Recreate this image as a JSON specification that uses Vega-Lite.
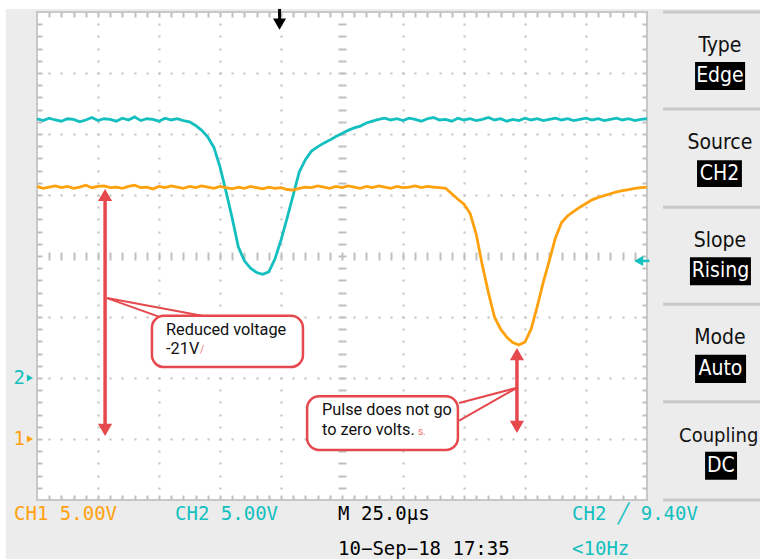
{
  "$schema": "https://vega.github.io/schema/vega-lite/v6.json",
  "width": 610,
  "height": 488,
  "autosize": {"type": "none"},
  "padding": {"left": 37, "top": 12, "right": 113, "bottom": 59},
  "background": "#ececec",
  "config": {"view": {"stroke": "#c8c8c8", "strokeWidth": 2, "fill": "#ffffff"}},
  "encoding": {
    "x": {
      "field": "t", "type": "quantitative",
      "scale": {"domain": [-125, 125], "nice": false, "zero": false},
      "axis": {
        "values": [-120,-115,-110,-105,-100,-95,-90,-85,-80,-75,-70,-65,-60,-55,-50,-45,-40,-35,-30,-25,-20,-15,-10,-5,0,5,10,15,20,25,30,35,40,45,50,55,60,65,70,75,80,85,90,95,100,105,110,115,120],
        "grid": true, "gridColor": "#bfbfbf", "gridWidth": 2, "gridOpacity": 1,
        "gridDash": [5,55,2,59,2,59,2,56,8,56,2,59,2,59,2,55,5],
        "domain": false, "ticks": false, "labels": false, "title": null
      }
    },
    "y": {
      "field": "v", "type": "quantitative",
      "scale": {"domain": [0, 8], "nice": false, "zero": false},
      "axis": {
        "values": [0.2,0.4,0.6,0.8,1,1.2,1.4,1.6,1.8,2,2.2,2.4,2.6,2.8,3,3.2,3.4,3.6,3.8,4,4.2,4.4,4.6,4.8,5,5.2,5.4,5.6,5.8,6,6.2,6.4,6.6,6.8,7,7.2,7.4,7.6,7.8],
        "grid": true, "gridColor": "#bfbfbf", "gridWidth": 2, "gridOpacity": 1,
        "gridDash": [5,55,2,59,2,59,2,59,2,56,8,56,2,59,2,59,2,59,2,55,5],
        "domain": false, "ticks": false, "labels": false, "title": null
      }
    }
  },
  "layer": [
    {
      "data": {"values": [
        {"t": -141, "t2": 172, "v": 8.2, "v2": 8.05},
        {"t": -141, "t2": -137.8, "v": 8.2, "v2": -1}
      ]},
      "mark": {"type": "rect", "fill": "#ffffff", "clip": false},
      "encoding": {"x2": {"field": "t2"}, "y2": {"field": "v2"}}
    },
    {
      "data": {"values": [
        {"c":"CH2","t":-125,"v":6.25},{"c":"CH2","t":-122.5,"v":6.22},{"c":"CH2","t":-120,"v":6.26},{"c":"CH2","t":-117.5,"v":6.23},{"c":"CH2","t":-115,"v":6.21},{"c":"CH2","t":-112.5,"v":6.25},{"c":"CH2","t":-110,"v":6.24},{"c":"CH2","t":-107.5,"v":6.20},{"c":"CH2","t":-105,"v":6.23},{"c":"CH2","t":-102.5,"v":6.27},{"c":"CH2","t":-100,"v":6.22},{"c":"CH2","t":-97.5,"v":6.25},{"c":"CH2","t":-95,"v":6.24},{"c":"CH2","t":-92.5,"v":6.21},{"c":"CH2","t":-90,"v":6.26},{"c":"CH2","t":-87.5,"v":6.23},{"c":"CH2","t":-85,"v":6.28},{"c":"CH2","t":-82.5,"v":6.22},{"c":"CH2","t":-80,"v":6.25},{"c":"CH2","t":-77.5,"v":6.24},{"c":"CH2","t":-75,"v":6.21},{"c":"CH2","t":-72.5,"v":6.26},{"c":"CH2","t":-70,"v":6.23},{"c":"CH2","t":-67.5,"v":6.25},{"c":"CH2","t":-65,"v":6.22},{"c":"CH2","t":-62.5,"v":6.20},{"c":"CH2","t":-60,"v":6.14},{"c":"CH2","t":-57.5,"v":6.06},{"c":"CH2","t":-55,"v":5.95},{"c":"CH2","t":-52.5,"v":5.78},{"c":"CH2","t":-50,"v":5.46},{"c":"CH2","t":-47.5,"v":5.05},{"c":"CH2","t":-45,"v":4.62},{"c":"CH2","t":-42.5,"v":4.15},{"c":"CH2","t":-40,"v":3.92},{"c":"CH2","t":-37.5,"v":3.80},{"c":"CH2","t":-35,"v":3.73},{"c":"CH2","t":-32.5,"v":3.70},{"c":"CH2","t":-30,"v":3.74},{"c":"CH2","t":-27.5,"v":3.95},{"c":"CH2","t":-25,"v":4.26},{"c":"CH2","t":-22.5,"v":4.62},{"c":"CH2","t":-20,"v":5.00},{"c":"CH2","t":-17.5,"v":5.38},{"c":"CH2","t":-15,"v":5.58},{"c":"CH2","t":-12.5,"v":5.72},{"c":"CH2","t":-10,"v":5.79},{"c":"CH2","t":-7.5,"v":5.85},{"c":"CH2","t":-5,"v":5.90},{"c":"CH2","t":-2.5,"v":5.96},{"c":"CH2","t":0,"v":6.01},{"c":"CH2","t":2.5,"v":6.06},{"c":"CH2","t":5,"v":6.10},{"c":"CH2","t":7.5,"v":6.13},{"c":"CH2","t":10,"v":6.18},{"c":"CH2","t":12.5,"v":6.21},{"c":"CH2","t":15,"v":6.24},{"c":"CH2","t":17.5,"v":6.26},{"c":"CH2","t":20,"v":6.23},{"c":"CH2","t":22.5,"v":6.25},{"c":"CH2","t":25,"v":6.22},{"c":"CH2","t":27.5,"v":6.26},{"c":"CH2","t":30,"v":6.24},{"c":"CH2","t":32.5,"v":6.21},{"c":"CH2","t":35,"v":6.25},{"c":"CH2","t":37.5,"v":6.27},{"c":"CH2","t":40,"v":6.23},{"c":"CH2","t":42.5,"v":6.24},{"c":"CH2","t":45,"v":6.21},{"c":"CH2","t":47.5,"v":6.26},{"c":"CH2","t":50,"v":6.23},{"c":"CH2","t":52.5,"v":6.25},{"c":"CH2","t":55,"v":6.22},{"c":"CH2","t":57.5,"v":6.24},{"c":"CH2","t":60,"v":6.27},{"c":"CH2","t":62.5,"v":6.23},{"c":"CH2","t":65,"v":6.25},{"c":"CH2","t":67.5,"v":6.21},{"c":"CH2","t":70,"v":6.24},{"c":"CH2","t":72.5,"v":6.22},{"c":"CH2","t":75,"v":6.26},{"c":"CH2","t":77.5,"v":6.23},{"c":"CH2","t":80,"v":6.25},{"c":"CH2","t":82.5,"v":6.22},{"c":"CH2","t":85,"v":6.24},{"c":"CH2","t":87.5,"v":6.26},{"c":"CH2","t":90,"v":6.23},{"c":"CH2","t":92.5,"v":6.25},{"c":"CH2","t":95,"v":6.22},{"c":"CH2","t":97.5,"v":6.24},{"c":"CH2","t":100,"v":6.26},{"c":"CH2","t":102.5,"v":6.23},{"c":"CH2","t":105,"v":6.25},{"c":"CH2","t":107.5,"v":6.22},{"c":"CH2","t":110,"v":6.24},{"c":"CH2","t":112.5,"v":6.26},{"c":"CH2","t":115,"v":6.23},{"c":"CH2","t":117.5,"v":6.25},{"c":"CH2","t":120,"v":6.22},{"c":"CH2","t":122.5,"v":6.24},{"c":"CH2","t":125,"v":6.25},
        {"c":"CH1","t":-125,"v":5.14},{"c":"CH1","t":-122.5,"v":5.11},{"c":"CH1","t":-120,"v":5.13},{"c":"CH1","t":-117.5,"v":5.15},{"c":"CH1","t":-115,"v":5.12},{"c":"CH1","t":-112.5,"v":5.14},{"c":"CH1","t":-110,"v":5.11},{"c":"CH1","t":-107.5,"v":5.13},{"c":"CH1","t":-105,"v":5.16},{"c":"CH1","t":-102.5,"v":5.12},{"c":"CH1","t":-100,"v":5.14},{"c":"CH1","t":-97.5,"v":5.15},{"c":"CH1","t":-95,"v":5.12},{"c":"CH1","t":-92.5,"v":5.13},{"c":"CH1","t":-90,"v":5.11},{"c":"CH1","t":-87.5,"v":5.14},{"c":"CH1","t":-85,"v":5.16},{"c":"CH1","t":-82.5,"v":5.12},{"c":"CH1","t":-80,"v":5.13},{"c":"CH1","t":-77.5,"v":5.10},{"c":"CH1","t":-75,"v":5.14},{"c":"CH1","t":-72.5,"v":5.12},{"c":"CH1","t":-70,"v":5.15},{"c":"CH1","t":-67.5,"v":5.13},{"c":"CH1","t":-65,"v":5.11},{"c":"CH1","t":-62.5,"v":5.14},{"c":"CH1","t":-60,"v":5.12},{"c":"CH1","t":-57.5,"v":5.15},{"c":"CH1","t":-55,"v":5.13},{"c":"CH1","t":-52.5,"v":5.11},{"c":"CH1","t":-50,"v":5.14},{"c":"CH1","t":-47.5,"v":5.12},{"c":"CH1","t":-45,"v":5.10},{"c":"CH1","t":-42.5,"v":5.13},{"c":"CH1","t":-40,"v":5.11},{"c":"CH1","t":-37.5,"v":5.14},{"c":"CH1","t":-35,"v":5.12},{"c":"CH1","t":-32.5,"v":5.10},{"c":"CH1","t":-30,"v":5.13},{"c":"CH1","t":-27.5,"v":5.11},{"c":"CH1","t":-25,"v":5.12},{"c":"CH1","t":-22.5,"v":5.09},{"c":"CH1","t":-20,"v":5.08},{"c":"CH1","t":-17.5,"v":5.11},{"c":"CH1","t":-15,"v":5.13},{"c":"CH1","t":-12.5,"v":5.12},{"c":"CH1","t":-10,"v":5.15},{"c":"CH1","t":-7.5,"v":5.13},{"c":"CH1","t":-5,"v":5.11},{"c":"CH1","t":-2.5,"v":5.14},{"c":"CH1","t":0,"v":5.12},{"c":"CH1","t":2.5,"v":5.15},{"c":"CH1","t":5,"v":5.13},{"c":"CH1","t":7.5,"v":5.11},{"c":"CH1","t":10,"v":5.14},{"c":"CH1","t":12.5,"v":5.12},{"c":"CH1","t":15,"v":5.15},{"c":"CH1","t":17.5,"v":5.13},{"c":"CH1","t":20,"v":5.11},{"c":"CH1","t":22.5,"v":5.14},{"c":"CH1","t":25,"v":5.12},{"c":"CH1","t":27.5,"v":5.13},{"c":"CH1","t":30,"v":5.15},{"c":"CH1","t":32.5,"v":5.12},{"c":"CH1","t":35,"v":5.14},{"c":"CH1","t":37.5,"v":5.13},{"c":"CH1","t":40,"v":5.12},{"c":"CH1","t":42.5,"v":5.11},{"c":"CH1","t":45,"v":5.02},{"c":"CH1","t":47.5,"v":4.93},{"c":"CH1","t":50,"v":4.85},{"c":"CH1","t":52.5,"v":4.70},{"c":"CH1","t":55,"v":4.36},{"c":"CH1","t":57.5,"v":3.85},{"c":"CH1","t":60,"v":3.40},{"c":"CH1","t":62.5,"v":3.00},{"c":"CH1","t":65,"v":2.80},{"c":"CH1","t":67.5,"v":2.67},{"c":"CH1","t":70,"v":2.58},{"c":"CH1","t":72.5,"v":2.54},{"c":"CH1","t":75,"v":2.59},{"c":"CH1","t":77.5,"v":2.80},{"c":"CH1","t":80,"v":3.17},{"c":"CH1","t":82.5,"v":3.57},{"c":"CH1","t":85,"v":3.93},{"c":"CH1","t":87.5,"v":4.30},{"c":"CH1","t":90,"v":4.55},{"c":"CH1","t":92.5,"v":4.66},{"c":"CH1","t":95,"v":4.73},{"c":"CH1","t":97.5,"v":4.80},{"c":"CH1","t":100,"v":4.86},{"c":"CH1","t":102.5,"v":4.92},{"c":"CH1","t":105,"v":4.96},{"c":"CH1","t":107.5,"v":4.99},{"c":"CH1","t":110,"v":5.02},{"c":"CH1","t":112.5,"v":5.05},{"c":"CH1","t":115,"v":5.07},{"c":"CH1","t":117.5,"v":5.09},{"c":"CH1","t":120,"v":5.11},{"c":"CH1","t":122.5,"v":5.12},{"c":"CH1","t":125,"v":5.13}
      ]},
      "mark": {"type": "line", "strokeWidth": 2.8, "clip": true},
      "encoding": {
        "color": {"field": "c", "type": "nominal", "scale": {"domain": ["CH1", "CH2"], "range": ["#ffa10d", "#14bfbf"]}, "legend": null},
        "detail": {"field": "c"}
      }
    },
    {
      "data": {"values": [{"t": -25.6, "v": 8.05, "v2": 7.85}]},
      "mark": {"type": "rule", "color": "#000000", "strokeWidth": 3, "clip": false},
      "encoding": {"y2": {"field": "v2"}}
    },
    {
      "data": {"values": [{"t": -25.6, "v": 7.8}]},
      "mark": {"type": "point", "shape": "triangle-down", "filled": true, "color": "#000000", "size": 170, "opacity": 1, "clip": false}
    },
    {
      "data": {"values": [{"t": 122.4, "t2": 126.0, "v": 3.92}]},
      "mark": {"type": "rule", "color": "#14bfbf", "strokeWidth": 2.5, "clip": false},
      "encoding": {"x2": {"field": "t2"}}
    },
    {
      "data": {"values": [{"t": 121.6, "v": 3.92}]},
      "mark": {"type": "point", "shape": "triangle-left", "filled": true, "color": "#14bfbf", "size": 110, "opacity": 1, "clip": false}
    },
    {
      "data": {"values": [{"c": "CH2", "t": -127.9, "v": 2.0}, {"c": "CH1", "t": -127.9, "v": 1.0}]},
      "mark": {"type": "point", "shape": "triangle-right", "filled": true, "size": 50, "opacity": 1, "clip": false},
      "encoding": {"color": {"field": "c", "type": "nominal", "legend": null}}
    },
    {
      "data": {"values": [
        {"c": "CH2", "t": -134.6, "v": 2.0, "s": "2"},
        {"c": "CH1", "t": -134.6, "v": 1.0, "s": "1"},
        {"c": "CH1", "t": -134.4, "v": -0.23, "s": "CH1  5.00V"},
        {"c": "CH2", "t": -68.4, "v": -0.23, "s": "CH2  5.00V"},
        {"c": "CH2", "t": 94.3, "v": -0.23, "s": "CH2 ╱ 9.40V"},
        {"c": "CH2", "t": 94.3, "v": -0.8, "s": "<10Hz"}
      ]},
      "mark": {"type": "text", "align": "left", "baseline": "middle", "font": "DejaVu Sans Mono", "fontSize": 19, "clip": false},
      "encoding": {"text": {"field": "s"}, "color": {"field": "c", "type": "nominal", "legend": null}}
    },
    {
      "data": {"values": [
        {"t": -1.6, "v": -0.23, "s": "M 25.0µs"},
        {"t": -1.6, "v": -0.8, "s": "10−Sep−18 17:35"}
      ]},
      "mark": {"type": "text", "align": "left", "baseline": "middle", "font": "DejaVu Sans Mono", "fontSize": 19, "color": "#000000", "clip": false},
      "encoding": {"text": {"field": "s"}}
    },
    {
      "data": {"values": [
        {"t": 131.6, "t2": 172, "v": 8.0},
        {"t": 131.6, "t2": 172, "v": 6.41},
        {"t": 131.6, "t2": 172, "v": 4.8},
        {"t": 131.6, "t2": 172, "v": 3.21},
        {"t": 131.6, "t2": 172, "v": 1.61},
        {"t": 131.6, "t2": 172, "v": 0.0}
      ]},
      "mark": {"type": "rule", "color": "#c8c8c8", "strokeWidth": 3, "clip": false},
      "encoding": {"x2": {"field": "t2"}}
    },
    {
      "data": {"values": [
        {"t": 144.7, "t2": 165.2, "v": 7.18, "v2": 6.72},
        {"t": 145.5, "t2": 163.9, "v": 5.57, "v2": 5.13},
        {"t": 142.6, "t2": 167.6, "v": 3.98, "v2": 3.52},
        {"t": 144.7, "t2": 165.6, "v": 2.38, "v2": 1.92},
        {"t": 148.8, "t2": 161.9, "v": 0.79, "v2": 0.33}
      ]},
      "mark": {"type": "rect", "fill": "#000000", "clip": false},
      "encoding": {"x2": {"field": "t2"}, "y2": {"field": "v2"}}
    },
    {
      "data": {"values": [
        {"t": 154.9, "v": 7.44, "s": "Type"},
        {"t": 154.9, "v": 5.85, "s": "Source"},
        {"t": 154.9, "v": 4.25, "s": "Slope"},
        {"t": 154.9, "v": 2.66, "s": "Mode"}
      ]},
      "mark": {"type": "text", "align": "center", "baseline": "middle", "font": "DejaVu Sans Condensed", "fontSize": 21, "color": "#111111", "clip": false},
      "encoding": {"text": {"field": "s"}}
    },
    {
      "data": {"values": [
        {"t": 154.4, "v": 1.05, "s": "Coupling"}
      ]},
      "mark": {"type": "text", "align": "center", "baseline": "middle", "font": "DejaVu Sans Condensed", "fontSize": 20, "color": "#111111", "clip": false},
      "encoding": {"text": {"field": "s"}}
    },
    {
      "data": {"values": [
        {"t": 154.9, "v": 6.95, "s": "Edge"},
        {"t": 154.7, "v": 5.35, "s": "CH2"},
        {"t": 155.1, "v": 3.75, "s": "Rising"},
        {"t": 155.1, "v": 2.15, "s": "Auto"},
        {"t": 155.3, "v": 0.56, "s": "DC"}
      ]},
      "mark": {"type": "text", "align": "center", "baseline": "middle", "font": "DejaVu Sans Condensed", "fontSize": 21, "color": "#ffffff", "clip": false},
      "encoding": {"text": {"field": "s"}}
    },
    {
      "data": {"values": [
        {"t": -97.1, "v": 4.95, "v2": 1.2},
        {"t": 71.7, "v": 2.35, "v2": 1.25}
      ]},
      "mark": {"type": "rule", "color": "#e5484d", "strokeWidth": 3.5},
      "encoding": {"y2": {"field": "v2"}}
    },
    {
      "data": {"values": [
        {"t": -96.3, "v": 3.31, "t2": -72.5, "v2": 2.97},
        {"t": -96.3, "v": 3.31, "t2": -50.8, "v2": 2.97},
        {"t": 71.7, "v": 1.84, "t2": 48, "v2": 1.59},
        {"t": 71.7, "v": 1.84, "t2": 48, "v2": 1.3}
      ]},
      "mark": {"type": "rule", "color": "#e5484d", "strokeWidth": 2},
      "encoding": {"x2": {"field": "t2"}, "y2": {"field": "v2"}}
    },
    {
      "data": {"values": [{"t": -97.1, "v": 5.0}, {"t": 71.7, "v": 2.39}]},
      "mark": {"type": "point", "shape": "triangle-up", "filled": true, "color": "#e5484d", "size": 200, "opacity": 1}
    },
    {
      "data": {"values": [{"t": -97.1, "v": 1.15}, {"t": 71.7, "v": 1.2}]},
      "mark": {"type": "point", "shape": "triangle-down", "filled": true, "color": "#e5484d", "size": 200, "opacity": 1}
    },
    {
      "data": {"values": [
        {"t": -77.9, "t2": -16.0, "v": 3.02, "v2": 2.18},
        {"t": -14.3, "t2": 47.5, "v": 1.7, "v2": 0.82}
      ]},
      "mark": {"type": "rect", "fill": "#000000", "opacity": 0.15, "cornerRadius": 12, "xOffset": 2, "yOffset": 3},
      "encoding": {"x2": {"field": "t2"}, "y2": {"field": "v2"}}
    },
    {
      "data": {"values": [
        {"t": -77.9, "t2": -16.0, "v": 3.02, "v2": 2.18},
        {"t": -14.3, "t2": 47.5, "v": 1.7, "v2": 0.82}
      ]},
      "mark": {"type": "rect", "fill": "#ffffff", "stroke": "#e5484d", "strokeWidth": 2.5, "cornerRadius": 12},
      "encoding": {"x2": {"field": "t2"}, "y2": {"field": "v2"}}
    },
    {
      "data": {"values": [
        {"t": -72.1, "v": 2.79, "s": "Reduced voltage"},
        {"t": -72.1, "v": 2.48, "s": "-21V"},
        {"t": -8.2, "v": 1.48, "s": "Pulse does not go"},
        {"t": -8.2, "v": 1.15, "s": "to zero volts."}
      ]},
      "mark": {"type": "text", "align": "left", "baseline": "middle", "font": "Roboto", "fontSize": 16.3, "color": "#111111"},
      "encoding": {"text": {"field": "s"}}
    },
    {
      "data": {"values": [
        {"t": -58.2, "v": 2.46, "s": "/"},
        {"t": 31.1, "v": 1.11, "s": "s."}
      ]},
      "mark": {"type": "text", "align": "left", "baseline": "middle", "font": "Roboto", "fontSize": 10, "color": "#f07070"},
      "encoding": {"text": {"field": "s"}}
    }
  ]
}
